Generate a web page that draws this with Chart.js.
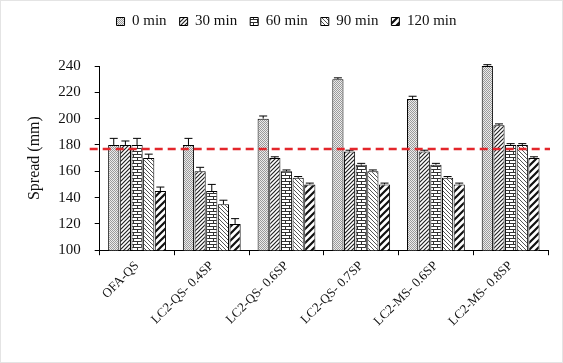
<!DOCTYPE html>
<html>
<head>
<meta charset="utf-8">
<script src="https://cdn.jsdelivr.net/npm/chart.js@4.4.1/dist/chart.umd.min.js"></script>
<style>
  html, body { margin: 0; padding: 0; background: #fff; }
  #wrap { width: 561px; height: 361px; border: 1px solid #e4e4e4; }
</style>
</head>
<body>
<div id="wrap"><canvas id="Spread" width="561" height="361"></canvas></div>
<script>
// data
var categories = ['OFA-QS', 'LC2-QS- 0.4SP', 'LC2-QS- 0.6SP', 'LC2-QS- 0.7SP', 'LC2-MS- 0.6SP', 'LC2-MS- 0.8SP'];
var seriesNames = ['0 min', '30 min', '60 min', '90 min', '120 min'];
var min0   = [180, 180, 200, 230, 215, 240];
var min30  = [180, 160, 170, 175, 175, 195];
var min60  = [180, 145, 160, 165, 165, 180];
var min90  = [170, 135, 155, 160, 155, 180];
var min120 = [145, 120, 150, 150, 150, 170];
var err0   = [5, 5, 2, 1, 2, 1];
var err30  = [3, 3, 1, 1, 1, 1];
var err60  = [5, 5, 1, 1, 1, 1];
var err90  = [3, 3, 1, 1, 1, 1];
var err120 = [3, 4, 1, 1, 1, 1];
var limitValue = 177;

// fill patterns
function makePattern(kind){
    var c = document.createElement('canvas');
    var g = c.getContext('2d');
    if(kind == 'dots'){
        c.width = 2; c.height = 2;
        g.fillStyle = '#ececec'; g.fillRect(0,0,2,2);
        g.fillStyle = '#9a9a9a'; g.fillRect(0,0,1,1); g.fillRect(1,1,1,1);
    }else if(kind == 'fwd'){
        c.width = 4; c.height = 4;
        g.fillStyle = '#fff'; g.fillRect(0,0,4,4);
        g.strokeStyle = '#222'; g.lineWidth = 1.2;
        g.beginPath(); g.moveTo(-1,5); g.lineTo(5,-1); g.moveTo(-1,1); g.lineTo(1,-1); g.moveTo(3,5); g.lineTo(5,3); g.stroke();
    }else if(kind == 'brick'){
        c.width = 8; c.height = 6;
        g.fillStyle = '#fff'; g.fillRect(0,0,8,6);
        g.fillStyle = '#333';
        g.fillRect(0,0,8,1); g.fillRect(0,3,8,1);
        g.fillRect(0,0,1,3); g.fillRect(4,3,1,3);
    }else if(kind == 'back'){
        c.width = 4; c.height = 4;
        g.fillStyle = '#fff'; g.fillRect(0,0,4,4);
        g.strokeStyle = '#555'; g.lineWidth = 1;
        g.beginPath(); g.moveTo(-1,-1); g.lineTo(5,5); g.moveTo(3,-1); g.lineTo(5,1); g.moveTo(-1,3); g.lineTo(1,5); g.stroke();
    }else if(kind == 'thick'){
        c.width = 7; c.height = 7;
        g.fillStyle = '#fff'; g.fillRect(0,0,7,7);
        g.strokeStyle = '#111'; g.lineWidth = 2.2;
        g.beginPath(); g.moveTo(-1,8); g.lineTo(8,-1); g.moveTo(-1,1); g.lineTo(1,-1); g.moveTo(6,8); g.lineTo(8,6); g.stroke();
    }
    return g.createPattern(c, 'repeat');
}

var seriesData = [min0, min30, min60, min90, min120];
var seriesErr = [err0, err30, err60, err90, err120];
var patternKinds = ['dots', 'fwd', 'brick', 'back', 'thick'];

var datasets = [];
for(var i=0; i<seriesNames.length; i++){
    datasets.push({
        label: seriesNames[i],
        data: seriesData[i],
        errors: seriesErr[i],
        backgroundColor: makePattern(patternKinds[i]),
        borderColor: '#000',
        borderWidth: 1,
        borderSkipped: 'bottom'
    });
}

// extra room under the legend
var legendGap = {
    id: 'legendGap',
    beforeInit: function(chart){
        var fit = chart.legend.fit;
        chart.legend.fit = function(){
            fit.bind(chart.legend)();
            this.height += 27;
        };
    }
};

// error bars + dashed reference line
var extras = {
    id: 'extras',
    afterDatasetsDraw: function(chart){
        var ctx = chart.ctx;
        var yScale = chart.scales.y;
        ctx.save();
        ctx.strokeStyle = '#000';
        ctx.lineWidth = 1;
        chart.data.datasets.forEach(function(ds, di){
            var meta = chart.getDatasetMeta(di);
            meta.data.forEach(function(bar, j){
                var e = ds.errors[j];
                if(!e) return;
                var yTop = yScale.getPixelForValue(ds.data[j] + e);
                var yBar = yScale.getPixelForValue(ds.data[j]);
                ctx.beginPath();
                ctx.moveTo(bar.x, yBar); ctx.lineTo(bar.x, yTop);
                ctx.moveTo(bar.x - 4, yTop); ctx.lineTo(bar.x + 4, yTop);
                ctx.stroke();
            });
        });
        var yl = yScale.getPixelForValue(limitValue);
        ctx.strokeStyle = '#e3262b';
        ctx.lineWidth = 2.5;
        ctx.setLineDash([8, 5]);
        ctx.beginPath();
        ctx.moveTo(chart.chartArea.left - 10, yl);
        ctx.lineTo(chart.chartArea.right + 2, yl);
        ctx.stroke();
        ctx.restore();
    }
};

var ctx = document.getElementById('Spread').getContext('2d');
var SpreadChart = new Chart(ctx, {
    type: 'bar',
    data: { labels: categories, datasets: datasets },
    options: {
        responsive: false,
        animation: false,
        layout: { padding: { left: 24, right: 14, top: 0, bottom: 30 } },
        datasets: { bar: { categoryPercentage: 0.78, barPercentage: 0.96 } },
        plugins: {
            tooltip: { enabled: false },
            legend: {
                position: 'top',
                labels: {
                    boxWidth: 8, boxHeight: 8, padding: 13,
                    color: '#111',
                    font: { family: 'Liberation Serif', size: 15 }
                }
            }
        },
        scales: {
            x: {
                grid: { display: true, drawOnChartArea: false, offset: true, color: '#000', tickLength: 5 },
                border: { color: '#000', width: 1 },
                ticks: {
                    maxRotation: 45, minRotation: 45,
                    color: '#111',
                    font: { family: 'Liberation Serif', size: 13 }
                }
            },
            y: {
                min: 100, max: 240,
                grid: { display: true, drawOnChartArea: false, color: '#000', tickLength: 5 },
                border: { color: '#000', width: 1 },
                ticks: {
                    stepSize: 20,
                    padding: 14,
                    color: '#111',
                    font: { family: 'Liberation Serif', size: 15 }
                },
                title: {
                    display: true,
                    text: 'Spread (mm)',
                    padding: 0,
                    color: '#111',
                    font: { family: 'Liberation Serif', size: 16 }
                }
            }
        }
    },
    plugins: [legendGap, extras]
});
</script>
</body>
</html>
